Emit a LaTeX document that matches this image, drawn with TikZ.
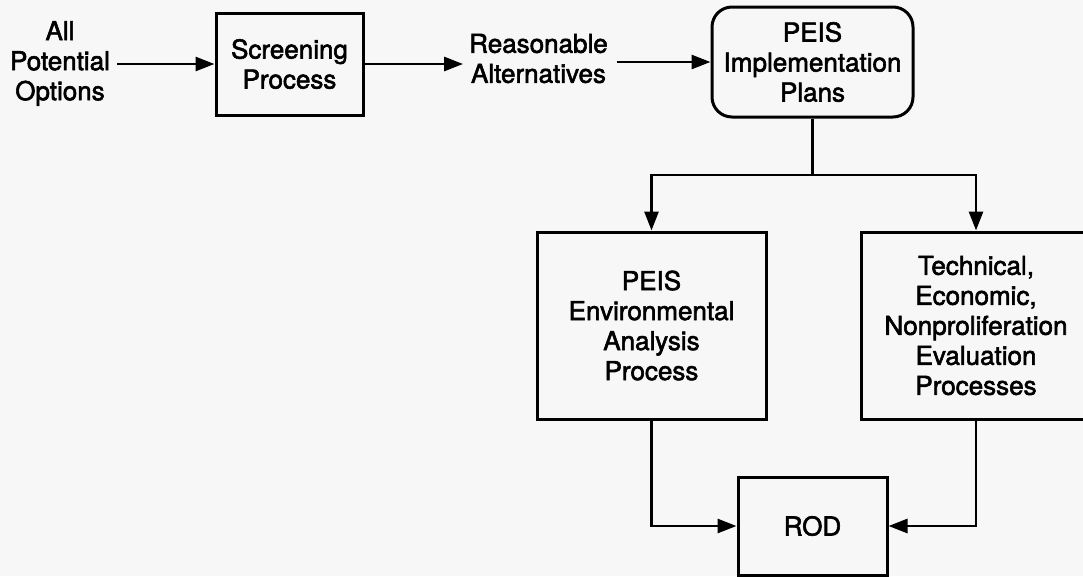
\documentclass[tikz,border=0pt]{standalone}
\usepackage{fontspec}
\setmainfont{TeX Gyre Heros}[FakeBold=2.2]
\usetikzlibrary{arrows.meta}
\definecolor{paper}{RGB}{247,247,247}
\begin{document}
\begin{tikzpicture}[x=1pt,y=-1pt,
  every node/.style={font=\fontsize{26}{30}\selectfont, align=center, inner sep=0pt},
  boxnode/.style={draw, line width=3pt, minimum width=#1},
  conn/.style={line width=2.8pt},
  arr/.style={conn, -{Triangle[length=19pt,width=14pt]}},
]
% page and background
\fill[paper] (0,0) rectangle (1083,576);
\useasboundingbox (0,0) rectangle (1083,576);

% top row
\node (opts) at (60,63.5) {\fontsize{26}{27}\selectfont All\\Potential\\Options};
\node[boxnode=147pt, minimum height=102pt] (scr) at (289.5,64) {Screening\\Process};
\node (alt) at (538.5,58.5) {\fontsize{26}{29}\selectfont Reasonable\\Alternatives};
\node[boxnode=201pt, minimum height=110pt, rounded corners=20pt] (plan) at (812.5,62)
  {PEIS\\Implementation\\Plans};

% evaluation boxes
\node[boxnode=229pt, minimum height=187pt] (env) at (651.5,325.5)
  {PEIS\\Environmental\\Analysis\\Process};
\node[boxnode=230pt, minimum height=187pt] (tech) at (976,325.5)
  {Technical,\\Economic,\\Nonproliferation\\Evaluation\\Processes};
\node[boxnode=149pt, minimum height=98pt] (rod) at (812.5,526) {ROD};

% connectors
\coordinate (split) at (812.5,175);
\draw[arr] ([xshift=7pt]opts.east |- scr.west) -- (scr.west);
\draw[arr] (scr.east) -- ([xshift=-6pt]alt.west |- scr.east);
\draw[arr] ([xshift=9pt]alt.east |- plan.west) -- (plan.west);
\draw[conn] (plan.south) -- (split);
\draw[arr] (split) -| (env.north);
\draw[arr] (split) -| (tech.north);
\draw[arr] (env.south) |- (rod.west);
\draw[arr] (tech.south) |- (rod.east);
\end{tikzpicture}
\end{document}
